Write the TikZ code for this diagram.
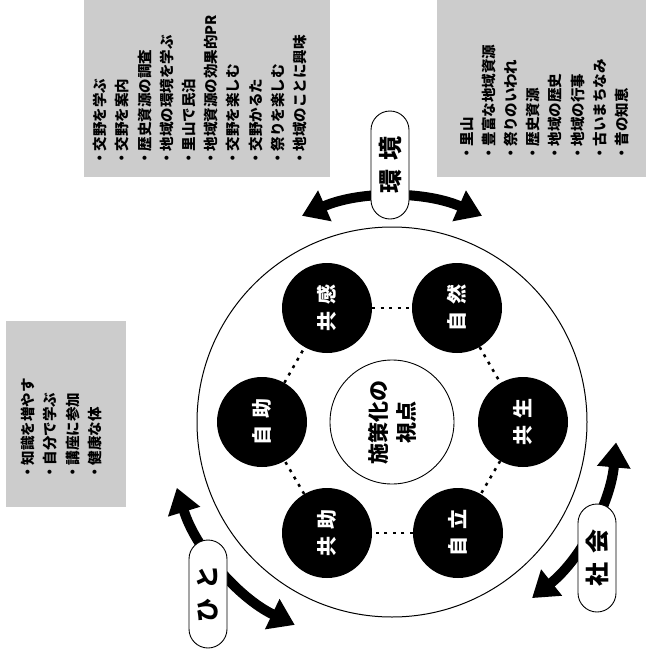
\documentclass[tikz,border=0pt]{standalone}
\usepackage{fontspec}
\setmainfont{Noto Sans CJK JP}
\usetikzlibrary{arrows.meta}
\begin{document}
\begin{tikzpicture}[x=1pt,y=-1pt,
  listbox/.style={fill=black!20, draw=none},
  listtext/.style={rotate=90, anchor=north west, inner sep=0pt, align=left, font=\fontsize{14.5}{22.2}\selectfont\bfseries},
  keynode/.style={circle, fill=black, minimum size=90pt, inner sep=0pt, text=white, rotate=90, font=\fontsize{20}{20}\selectfont\bfseries},
  link/.style={line width=2.5pt, dash pattern=on 3pt off 5.5pt},
  ring/.style={circle, draw, line width=1pt, minimum size=390pt, inner sep=0pt},
  hub/.style={circle, draw, fill=white, line width=0.9pt, minimum size=124pt, inner sep=0pt, rotate=90, align=center, font=\fontsize{21}{28}\selectfont\bfseries},
  pill/.style={draw, fill=white, rounded corners=19pt, minimum width=108pt, minimum height=38pt, inner sep=0pt, rotate=90, line width=0.9pt, font=\fontsize{24}{24}\selectfont\bfseries},
  bigarrow/.style={line width=10pt, {Triangle[width=32pt,length=25pt]}-{Triangle[width=32pt,length=25pt]}}
]
\fill[white] (0,0) rectangle (646,656);
\useasboundingbox (0,0) rectangle (646,656);

% list boxes
\fill[listbox] (84,0) rectangle (330,177);
\fill[listbox] (437,0) rectangle (646,177);
\fill[listbox] (6,321) rectangle (126,507);

\node[listtext] (listA) at (93,166) {・交野を学ぶ\\・交野を案内\\・歴史資源の調査\\・地域の環境を学ぶ\\・里山で民泊\\・地域資源の効果的PR\\・交野を楽しむ\\・交野かるた\\・祭りを楽しむ\\・地域のことに興味};
\node[listtext] (listB) at (460,161) {・里山\\・豊富な地域資源\\・祭りのいわれ\\・歴史資源\\・地域の歴史\\・地域の行事\\・古いまちなみ\\・昔の知恵};
\node[listtext] (listC) at (21,480) {・知識を増やす\\・自分で学ぶ\\・講座に参加\\・健康な体};

% outer ring
\node[ring] (outer) at (392,422) {};

% key circles
\node[keynode] (kyokan) at (327,308) {共\hspace{0.35em}感};
\node[keynode] (shizen) at (457,308) {自\hspace{0.35em}然};
\node[keynode] (jijo) at (262,422) {自\hspace{0.35em}助};
\node[keynode] (kyosei) at (523,422) {共\hspace{0.35em}生};
\node[keynode] (kyojo) at (327,533) {共\hspace{0.35em}助};
\node[keynode] (jiritsu) at (458,533) {自\hspace{0.35em}立};

\draw[link] (kyokan) -- (shizen);
\draw[link] (shizen) -- (kyosei);
\draw[link] (kyosei) -- (jiritsu);
\draw[link] (jiritsu) -- (kyojo);
\draw[link] (kyojo) -- (jijo);
\draw[link] (jijo) -- (kyokan);

\node[hub] (hub) at (392,422) {施策化の\\視点};

% arrows
\draw[bigarrow] ([shift={(392,422)}]-113.6:225) arc[start angle=-113.6, end angle=-66.4, radius=225];
\draw[bigarrow] ([shift={(392,422)}]5.2:225) arc[start angle=5.2, end angle=51.5, radius=225];
\draw[bigarrow] ([shift={(392,422)}]115.6:225) arc[start angle=115.6, end angle=163, radius=225];

% pills
\node[pill] (kankyo) at (390,165) {環\hspace{0.4em}境};
\node[pill] (shakai) at (597,558) {社\hspace{0.4em}会};
\node[pill] (hito) at (208,594) {ひ\hspace{0.4em}と};
\end{tikzpicture}
\end{document}
